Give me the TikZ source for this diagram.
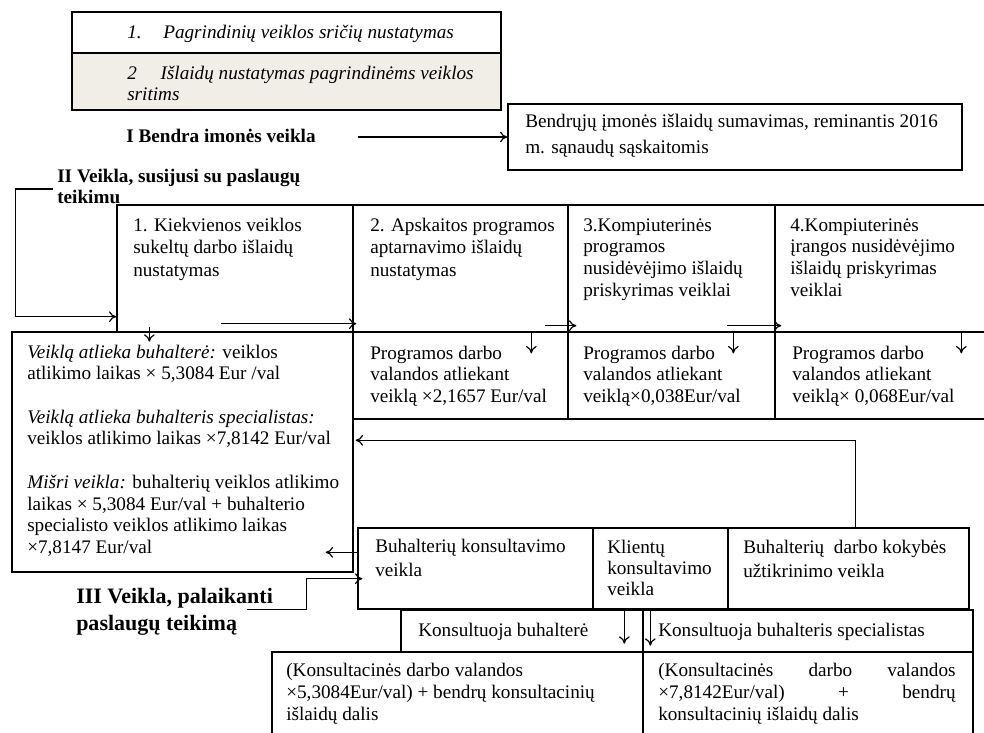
\documentclass[tikz,border=0pt]{standalone}
\usepackage{fontspec}
\setmainfont{Liberation Serif}
\usetikzlibrary{arrows.meta,calc,fit}
\definecolor{rowgray}{RGB}{241,238,231}
\newcommand{\lns}[1]{\begin{tabular}[t]{@{}l@{}}#1\end{tabular}}

\begin{document}
\begin{tikzpicture}[x=0.75pt,y=-0.75pt,
    arr/.style={-{To[length=5.5pt,width=8pt]},line width=0.9pt},
    txt/.style={inner sep=0pt,anchor=base west,
      font=\fontsize{14.4}{16.3}\selectfont}]

  \useasboundingbox (0,0) rectangle (984,732);

  \begin{scope}[every node/.style={draw,line width=1pt,inner sep=0pt}]
    \node[fit={(72,12) (501,53)}] (r1) {};
    \node[fill=rowgray,fit={(72,53) (501,110)}] (r2) {};
    \node[fit={(508,104) (962,170)}] (suma) {};
    \node[fit={(117,205) (353,332)}] (d1) {};
    \node[fit={(353,205) (568,332)}] (d2) {};
    \node[fit={(568,205) (775,332)}] (d3) {};
    \node[fit={(775,205) (995,332)}] (d4) {};
    \node[fit={(12,332) (353,572)}] (e1) {};
    \node[fit={(353,332) (568,419)}] (e2) {};
    \node[fit={(568,332) (775,419)}] (e3) {};
    \node[fit={(775,332) (995,419)}] (e4) {};
    \node[fit={(358,528) (593,609)}] (k1) {};
    \node[fit={(593,528) (728,609)}] (k2) {};
    \node[fit={(728,528) (969,609)}] (k3) {};
    \node[fit={(401,610) (643,652)}] (l1) {};
    \node[fit={(643,610) (973,652)}] (l2) {};
    \node[fit={(272,652) (643,745)}] (m1) {};
    \node[fit={(643,652) (973,745)}] (m2) {};
  \end{scope}

  \begin{scope}[every node/.style={txt}]
    \node (r1t) at (127,38) {\itshape\makebox[27pt][l]{1.}Pagrindinių veiklos sričių nustatymas};
    \node[font=\fontsize{14.4}{15.8}\selectfont] (r2t) at (127,79)
      {\itshape\lns{\makebox[25pt][l]{2}Išlaidų nustatymas pagrindinėms veiklos\\sritims}};
    \node[font=\fontsize{14.4}{16}\selectfont\bfseries] (bendra) at (126,142) {I Bendra imonės veikla};
    \node[font=\fontsize{14.4}{20}\selectfont] (sumat) at (525,127)
      {\lns{Bendrųjų įmonės išlaidų sumavimas, reminantis 2016\\m. sąnaudų sąskaitomis}};
    \node[font=\fontsize{14.4}{15.8}\selectfont\bfseries] (ii) at (57,182)
      {\lns{II Veikla, susijusi su paslaugų\\teikimu}};

    \node[font=\fontsize{14.4}{17}\selectfont] (d1t) at (133,231)
      {\lns{1. Kiekvienos veiklos\\sukeltų darbo išlaidų\\nustatymas}};
    \node[font=\fontsize{14.4}{17}\selectfont] (d2t) at (370,231)
      {\lns{2. Apskaitos programos\\aptarnavimo išlaidų\\nustatymas}};
    \node (d3t) at (583,231)
      {\lns{3.Kompiuterinės\\programos\\nusidėvėjimo išlaidų\\priskyrimas veiklai}};
    \node (d4t) at (790,231)
      {\lns{4.Kompiuterinės\\įrangos nusidėvėjimo\\išlaidų priskyrimas\\veiklai}};

    \node (e1t) at (27,358)
      {\lns{\textit{Veiklą atlieka buhalterė:} veiklos\\
       atlikimo laikas × 5,3084 Eur /val\\[16.3pt]
       \textit{Veiklą atlieka buhalteris specialistas:}\\
       veiklos atlikimo laikas ×7,8142 Eur/val\\[16.3pt]
       \textit{Mišri veikla:} buhalterių veiklos atlikimo\\
       laikas × 5,3084 Eur/val + buhalterio\\
       specialisto veiklos atlikimo laikas\\
       ×7,8147 Eur/val}};
    \node (e2t) at (370,359) {\lns{Programos darbo\\valandos atliekant\\veiklą ×2,1657 Eur/val}};
    \node (e3t) at (583,359) {\lns{Programos darbo\\valandos atliekant\\veiklą×0,038Eur/val}};
    \node (e4t) at (792,359) {\lns{Programos darbo\\valandos atliekant\\veiklą× 0,068Eur/val}};

    \node[font=\fontsize{14.4}{18.5}\selectfont] (k1t) at (375,552)
      {\lns{Buhalterių konsultavimo\\veikla}};
    \node[font=\fontsize{14.4}{15.8}\selectfont] (k2t) at (607,553)
      {\lns{Klientų\\konsultavimo\\veikla}};
    \node[font=\fontsize{14.4}{18}\selectfont] (k3t) at (743,553)
      {\lns{Buhalterių\ \ darbo kokybės\\užtikrinimo veikla}};
    \node[font=\fontsize{16.5}{20.3}\selectfont\bfseries] (iii) at (76,603)
      {\lns{III Veikla, palaikanti\\paslaugų teikimą}};

    \node (l1t) at (418,636) {Konsultuoja buhalterė};
    \node (l2t) at (658,636) {Konsultuoja buhalteris specialistas};
    \node[font=\fontsize{14.4}{16.5}\selectfont] (m1t) at (286,676)
      {\lns{(Konsultacinės darbo valandos\\×5,3084Eur/val) + bendrų konsultacinių\\išlaidų dalis}};
    \node[font=\fontsize{14.4}{16.5}\selectfont] (m2t) at (658,676)
      {\begin{tabular}[t]{@{}p{223pt}@{}}(Konsultacinės\hfill darbo\hfill valandos\\
       ×7,8142Eur/val)\hfill +\hfill bendrų\\konsultacinių išlaidų dalis\end{tabular}};
  \end{scope}

  \draw[arr] ($(bendra.base east)+(42,-5)$) -- (suma.west);
  \draw[arr] ($(ii.base west)+(-4,7)$) -| ($(d1.south west)+(-101,-16)$) -- ($(d1.south west)+(0,-16)$);
  \draw[arr] ($(d2.south west)+(-131,-9)$) -- ($(d2.south west)+(4,-9)$);
  \draw[arr] ($(d3.south west)+(-22,-7)$) -- ($(d3.south west)+(9,-7)$);
  \draw[arr] ($(d4.south west)+(-47,-7)$) -- ($(d4.south west)+(7,-7)$);
  \draw[arr] ($(d1.south west)+(33,-6)$) -- ++(0,15);
  \draw[arr] ($(e2.north west)+(179,1)$) -- ++(0,21);
  \draw[arr] ($(e3.north west)+(166,1)$) -- ++(0,21);
  \draw[arr] ($(e4.north west)+(187,1)$) -- ++(0,21);
  \draw[arr] ($(k3.north west)+(128,0)$) |- ($(e1.north east)+(2,109)$);
  \draw[arr] ($(k1.north west)+(0,25)$) -- ($(e1.north east)+(-28,221)$);
  \draw[arr] ($(k1.south west)+(-110,0)$) -- ++(59,0) |- ($(k1.south west)+(5,-31)$);
  \draw[arr] ($(k2.south west)+(32,1)$) -- ++(0,33);
  \draw[arr] ($(k2.south west)+(58,1)$) -- ++(0,35);

\end{tikzpicture}
\end{document}
